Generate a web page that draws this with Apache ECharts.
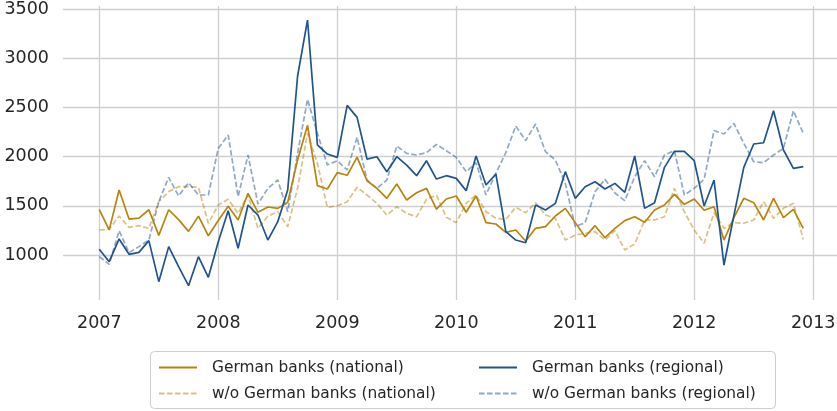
<!DOCTYPE html>
<html>
<head>
<meta charset="utf-8">
<script src="https://cdn.jsdelivr.net/npm/echarts@6/dist/echarts.min.js"></script>
<style>
html,body{margin:0;padding:0;background:#fff;}
#chart{width:837px;height:411px;}
</style>
</head>
<body>
<div id="chart"></div>
<script>
// Monthly observations, Jan 2007 .. Dec 2012
var years = [2007, 2008, 2009, 2010, 2011, 2012];
var monthsPerYear = 12;

var germanNational = [
  1460, 1255, 1660, 1365, 1375, 1460, 1200, 1460, 1360, 1240, 1395, 1195,
  1350, 1495, 1355, 1627, 1434, 1488, 1474, 1535, 1965, 2318, 1705, 1671,
  1837, 1810, 1995, 1755, 1677, 1576, 1721, 1559, 1633, 1677, 1467, 1569,
  1600, 1434, 1600, 1329, 1315, 1230, 1254, 1142, 1271, 1288, 1396, 1474,
  1329, 1186, 1298, 1176, 1271, 1349, 1389, 1332, 1457, 1508, 1616, 1515,
  1569, 1455, 1491, 1152, 1380, 1576, 1532, 1356, 1576, 1379, 1464, 1271
];
var germanRegional = [
  1058, 932, 1163, 1007, 1027, 1146, 729, 1085, 881, 688, 983, 773,
  1135, 1450, 1068, 1508, 1406, 1152, 1339, 1660, 2819, 3388, 2118, 2026,
  1992, 2521, 2399, 1975, 1999, 1847, 1999, 1914, 1806, 1958, 1772, 1806,
  1779, 1654, 2006, 1711, 1823, 1237, 1152, 1125, 1508, 1457, 1525, 1847,
  1576, 1694, 1745, 1671, 1728, 1637, 2006, 1474, 1532, 1891, 2053, 2053,
  1958, 1498, 1762, 898, 1400, 1891, 2128, 2141, 2466, 2067, 1881, 1898
];
var woNational = [
  1254, 1261, 1396, 1281, 1298, 1271, 1542, 1644, 1694, 1694, 1688, 1322,
  1508, 1566, 1423, 1610, 1271, 1396, 1440, 1288, 1677, 2236, 1931, 1484,
  1501, 1542, 1688, 1610, 1525, 1406, 1491, 1423, 1389, 1566, 1610, 1383,
  1329, 1525, 1610, 1440, 1373, 1362, 1484, 1430, 1532, 1406, 1373, 1152,
  1203, 1220, 1237, 1152, 1247, 1051, 1112, 1356, 1356, 1389, 1677, 1440,
  1254, 1120, 1430, 1271, 1329, 1322, 1356, 1542, 1373, 1474, 1525, 1159
];
var woRegional = [
  983, 905, 1247, 1024, 1085, 1152, 1542, 1789, 1600, 1735, 1610, 1610,
  2084, 2219, 1593, 2016, 1518, 1677, 1762, 1440, 2033, 2582, 2236, 1915,
  1958, 1864, 2196, 1762, 1677, 1762, 2108, 2033, 2016, 2040, 2124, 2060,
  1992, 1847, 1938, 1610, 1830, 2040, 2311, 2162, 2331, 2050, 1965, 1728,
  1288, 1329, 1643, 1769, 1630, 1552, 1796, 1959, 1796, 2016, 2060, 1610,
  1677, 1770, 2265, 2230, 2338, 2135, 1948, 1938, 2016, 2084, 2466, 2236
];
var seriesNames = [
  'German banks (national)',
  'German banks (regional)',
  'w/o German banks (national)',
  'w/o German banks (regional)'
];

// month positions as decimal years (category -> axis coordinate)
var monthX = [];
years.forEach(function (y) {
  for (var m = 0; m < monthsPerYear; m++) monthX.push(y + m / monthsPerYear);
});
function pairs(vals) {
  return vals.map(function (v, i) { return [monthX[i], v]; });
}

var GOLD = '#b9840c';
var BLUE = '#1f548f';
var TXT = '#262626';
var GRID = '#cfcfcf';

var chart = echarts.init(document.getElementById('chart'), null, {renderer: 'canvas'});
function lineSeries(name, vals, color, dashed) {
  return {
    name: name,
    type: 'line',
    data: pairs(vals),
    symbol: 'none',
    showSymbol: false,
    animation: false,
    itemStyle: {color: color, opacity: dashed ? 0.5 : 1},
    lineStyle: {
      color: color,
      width: 1.7,
      type: dashed ? [5.5, 2.5] : 'solid',
      opacity: dashed ? 0.5 : 1
    },
    emphasis: {disabled: true}
  };
}
function makeLegend(left, top, name) {
  return {
    orient: 'horizontal',
    left: left,
    top: top,
    padding: 0,
    itemWidth: 38,
    itemHeight: 14,
    itemStyle: {opacity: 0},
    textStyle: {color: TXT, fontSize: 15.4, fontFamily: 'DejaVu Sans', padding: [0, 0, 0, 10]},
    selectedMode: false,
    data: [name]
  };
}
chart.setOption({
  animation: false,
  backgroundColor: '#fff',
  grid: {left: 63, right: 0, top: 6, bottom: 111, containLabel: false, outerBoundsMode: 'none'},
  xAxis: {
    type: 'value',
    min: 2006.695,
    max: 2013.2,
    axisLine: {show: false},
    axisTick: {show: false},
    axisLabel: {
      color: TXT, fontSize: 17.5, fontFamily: 'DejaVu Sans', margin: 14,
      showMinLabel: false, showMaxLabel: false,
      formatter: function (v) { return String(Math.round(v)); }
    },
    splitLine: {show: true, showMinLine: false, showMaxLine: false, lineStyle: {color: GRID, width: 1.3}}
  },
  yAxis: {
    type: 'value',
    min: 542.7,
    max: 3530.6,
    axisLine: {show: false},
    axisTick: {show: false},
    axisLabel: {
      color: TXT, fontSize: 17.5, fontFamily: 'DejaVu Sans', margin: 14,
      showMinLabel: false, showMaxLabel: false,
      formatter: function (v) { return String(Math.round(v)); }
    },
    splitLine: {show: true, showMinLine: false, showMaxLine: false, lineStyle: {color: GRID, width: 1.3}}
  },
  graphic: [{
    type: 'rect',
    shape: {x: 150.5, y: 351.5, width: 625, height: 57, r: 4},
    style: {fill: 'none', stroke: '#cccccc', lineWidth: 1},
    z: 0
  }],
  legend: [
    makeLegend(158, 360, seriesNames[0]),
    makeLegend(158, 386, seriesNames[2]),
    makeLegend(478, 360, seriesNames[1]),
    makeLegend(478, 386, seriesNames[3])
  ],
  series: [
    lineSeries(seriesNames[2], woNational, GOLD, true),
    lineSeries(seriesNames[3], woRegional, BLUE, true),
    lineSeries(seriesNames[0], germanNational, GOLD, false),
    lineSeries(seriesNames[1], germanRegional, BLUE, false)
  ]
});
</script>
</body>
</html>
